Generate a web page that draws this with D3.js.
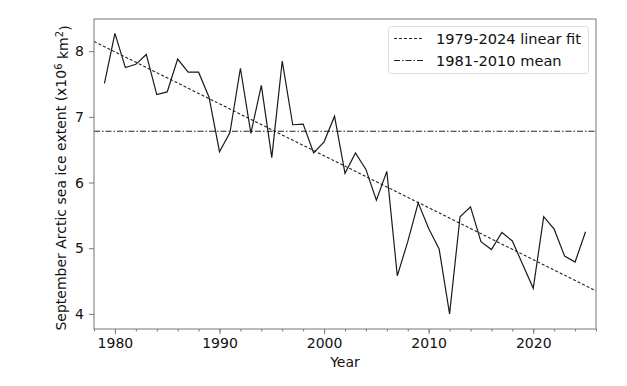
<!DOCTYPE html>
<html>
<head>
<meta charset="utf-8">
<style>
  body { margin: 0; background: #fff; }
  text { font-family: "DejaVu Sans", sans-serif; fill: #111; }
</style>
</head>
<body>
<div id="chart"></div>
<script src="https://d3js.org/d3.v7.min.js"></script>
<script>
// September extent by year (million km2)
var years = d3.range(1979, 2026);
var extent = [7.51, 8.27, 7.75, 7.80, 7.95, 7.34, 7.38, 7.88, 7.68, 7.68,
              7.30, 6.47, 6.76, 7.74, 6.75, 7.48, 6.38, 7.85, 6.88, 6.89,
              6.45, 6.62, 7.01, 6.14, 6.45, 6.20, 5.73, 6.17, 4.58, 5.10,
              5.69, 5.30, 4.99, 4.00, 5.48, 5.63, 5.10, 4.98, 5.24, 5.11,
              4.75, 4.39, 5.48, 5.29, 4.88, 4.79, 5.25];
var xTicks = [1980, 1990, 2000, 2010, 2020];
var xMinorTicks = d3.range(1978, 2027, 2);
var yTicks = [4, 5, 6, 7, 8];
var legendLabels = ["1979-2024 linear fit", "1981-2010 mean"];

var W = 627, H = 386;
var margin = {left: 94, right: 31, top: 19, bottom: 57};

var svg = d3.select("#chart").append("svg")
  .attr("width", W).attr("height", H);

var x = d3.scaleLinear().domain([1978, 2026])
  .range([margin.left, W - margin.right]);
var y = d3.scaleLinear().domain([3.77, 8.49])
  .range([H - margin.bottom, margin.top]);

var pts = years.map(function(yr, i) { return {year: yr, v: extent[i]}; });

// linear fit over 1979-2024
var fitPts = pts.filter(function(d) { return d.year <= 2024; });
var mx = d3.mean(fitPts, function(d) { return d.year; });
var my = d3.mean(fitPts, function(d) { return d.v; });
var slope = d3.sum(fitPts, function(d) { return (d.year - mx) * (d.v - my); }) /
            d3.sum(fitPts, function(d) { return (d.year - mx) * (d.year - mx); });
var fitAt = function(yr) { return my + slope * (yr - mx); };

// 1981-2010 mean
var meanVal = d3.mean(pts.filter(function(d) { return d.year >= 1981 && d.year <= 2010; }),
  function(d) { return d.v; });

var plot = svg.append("g");
plot.append("clipPath").attr("id", "clip").append("rect")
  .attr("x", margin.left).attr("y", margin.top)
  .attr("width", W - margin.left - margin.right)
  .attr("height", H - margin.top - margin.bottom);

var inner = plot.append("g").attr("clip-path", "url(#clip)");

// mean line
inner.append("line")
  .attr("x1", x(1978)).attr("x2", x(2026))
  .attr("y1", y(meanVal)).attr("y2", y(meanVal))
  .attr("stroke", "#222").attr("stroke-width", 1.1)
  .attr("stroke-dasharray", "6,2,1.5,2");

// fit line
inner.append("line")
  .attr("x1", x(1978)).attr("x2", x(2026))
  .attr("y1", y(fitAt(1978))).attr("y2", y(fitAt(2026)))
  .attr("stroke", "#222").attr("stroke-width", 1.1)
  .attr("stroke-dasharray", "3,2");

// data line
var line = d3.line().x(function(d) { return x(d.year); }).y(function(d) { return y(d.v); });
inner.append("path").datum(pts)
  .attr("d", line)
  .attr("fill", "none").attr("stroke", "#1a1a1a").attr("stroke-width", 1.2);

// axes
svg.append("g")
  .attr("transform", "translate(0," + (H - margin.bottom) + ")")
  .call(d3.axisBottom(x).tickValues(xTicks).tickFormat(d3.format("d")).tickSize(5).tickPadding(4));
svg.append("g")
  .attr("transform", "translate(0," + (H - margin.bottom) + ")")
  .call(d3.axisBottom(x).tickValues(xMinorTicks).tickFormat("").tickSize(2.5))
  .call(function(g) { g.select(".domain").remove(); });
svg.append("g")
  .attr("transform", "translate(" + margin.left + ",0)")
  .call(d3.axisLeft(y).tickValues(yTicks).tickFormat(d3.format("d")).tickSize(5).tickPadding(5));

svg.selectAll(".tick line").attr("stroke", "#777");
svg.selectAll(".domain").remove();
svg.selectAll(".tick text")
  .style("font-family", "DejaVu Sans").style("font-size", "14px").attr("fill", "#111");

// frame
svg.append("rect")
  .attr("x", margin.left).attr("y", margin.top)
  .attr("width", W - margin.left - margin.right)
  .attr("height", H - margin.top - margin.bottom)
  .attr("fill", "none").attr("stroke", "#777").attr("stroke-width", 1);

// axis titles
svg.append("text")
  .attr("x", (margin.left + W - margin.right) / 2).attr("y", 367)
  .attr("text-anchor", "middle").style("font-size", "14px")
  .text("Year");

var yl = svg.append("text")
  .attr("transform", "translate(66," + ((margin.top + H - margin.bottom) / 2 + 4) + ") rotate(-90)")
  .attr("text-anchor", "middle").style("font-size", "14px");
yl.append("tspan").text("September Arctic sea ice extent (x10");
yl.append("tspan").attr("dy", "-0.45em").style("font-size", "10px").text("6");
yl.append("tspan").attr("dy", "0.45em").text(" km");
yl.append("tspan").attr("dy", "-0.45em").style("font-size", "10px").text("2");
yl.append("tspan").attr("dy", "0.45em").text(")");

// legend
var lg = svg.append("g");
lg.append("rect")
  .attr("x", 388.5).attr("y", 26.5).attr("width", 200).attr("height", 47)
  .attr("rx", 3).attr("fill", "#fff").attr("fill-opacity", 0.8)
  .attr("stroke", "#ddd");
var dashes = ["3,2", "6,2,1.5,2"];
legendLabels.forEach(function(lab, i) {
  var cy = 38.5 + i * 22;
  lg.append("line").attr("x1", 394).attr("x2", 423).attr("y1", cy).attr("y2", cy)
    .attr("stroke", "#222").attr("stroke-width", 1.1).attr("stroke-dasharray", dashes[i]);
  lg.append("text").attr("x", 436).attr("y", cy + 5)
    .style("font-size", "14.6px").text(lab);
});
</script>
</body>
</html>
